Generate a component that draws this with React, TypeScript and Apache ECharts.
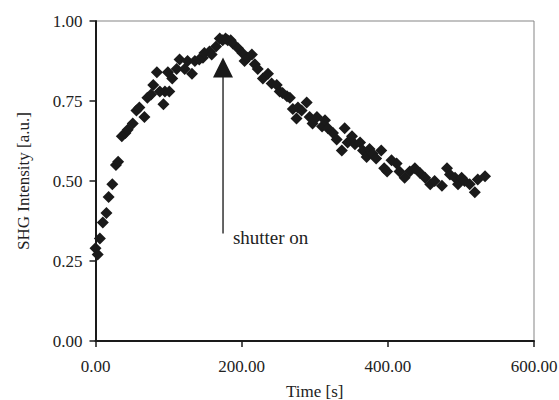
import { useEffect, useRef } from "react";
import * as echarts from "echarts";

const timeS = [
  0, 3, 6, 10, 15, 18, 23, 28, 31, 36, 41, 44, 51, 56, 60, 67, 71, 76, 79, 84,
  88, 93, 95, 99, 101, 105, 111, 115, 122, 126, 132, 136, 142, 147, 149, 156, 159, 165, 170, 174,
  178, 181, 185, 188, 195, 201, 204, 208, 214, 218, 222, 229, 236, 241, 248, 252, 256, 262, 266, 270,
  275, 277, 282, 289, 293, 297, 303, 310, 314, 318, 325, 330, 337, 341, 345, 351, 355, 362, 366, 371,
  375, 379, 384, 391, 395, 399, 405, 412, 416, 423, 430, 437, 444, 451, 458, 464, 474, 481, 485, 492,
  496, 501, 505, 512, 519, 523, 533,
];
const shg = [
  0.29, 0.27, 0.32, 0.37, 0.4, 0.45, 0.49, 0.55, 0.56, 0.64, 0.65, 0.66, 0.68, 0.72, 0.73, 0.7, 0.76, 0.77, 0.8, 0.84,
  0.78, 0.74, 0.78, 0.84, 0.78, 0.82, 0.85, 0.88, 0.85, 0.875, 0.835, 0.875, 0.88, 0.885, 0.9, 0.905, 0.895, 0.92, 0.945, 0.94,
  0.945, 0.94, 0.94, 0.93, 0.915, 0.9, 0.875, 0.885, 0.895, 0.865, 0.85, 0.82, 0.835, 0.805, 0.8, 0.78, 0.775, 0.765, 0.76, 0.725,
  0.695, 0.73, 0.72, 0.745, 0.7, 0.68, 0.7, 0.67, 0.69, 0.665, 0.65, 0.63, 0.595, 0.665, 0.62, 0.64, 0.615, 0.62, 0.595, 0.575,
  0.6, 0.585, 0.57, 0.595, 0.54, 0.53, 0.565, 0.555, 0.53, 0.51, 0.53, 0.54, 0.525, 0.51, 0.49, 0.5, 0.485, 0.54, 0.52, 0.51,
  0.49, 0.51, 0.5, 0.49, 0.465, 0.505, 0.515,
];

const xAxisName = "Time [s]";
const yAxisName = "SHG Intensity [a.u.]";
const annotationText = "shutter on";
// annotation anchor points in data units
const arrowX = 174.5;
const arrowTipY = 0.886;
const arrowBaseY = 0.336;
const labelX = 188;
const labelY = 0.324;

const FONT = "Liberation Serif";

export default function App() {
  const ref = useRef<HTMLDivElement>(null);
  useEffect(() => {
    if (!ref.current) return;
    const chart = echarts.init(ref.current, undefined, { renderer: "svg" });
    const data = timeS.map((t, i) => [t, shg[i]]);
    chart.setOption({
      animation: false,
      backgroundColor: "#fff",
      grid: {
        left: 95.5,
        right: 25,
        top: 21,
        bottom: 59,
        containLabel: false,
        outerBoundsMode: "none",
        show: true,
        borderColor: "#858585",
        borderWidth: 1,
      },
      xAxis: {
        type: "value",
        min: 0,
        max: 600,
        interval: 200,
        name: xAxisName,
        nameLocation: "middle",
        nameGap: 42,
        nameTextStyle: { fontFamily: FONT, fontSize: 17, color: "#222" },
        axisLine: { lineStyle: { color: "#1a1a1a", width: 2 } },
        axisTick: { show: true, length: 6, lineStyle: { color: "#1a1a1a", width: 1.5 } },
        splitLine: { show: false },
        axisLabel: {
          margin: 17,
          fontFamily: FONT,
          fontSize: 17,
          color: "#222",
          formatter: (v: number) => v.toFixed(2),
        },
      },
      yAxis: {
        type: "value",
        min: 0,
        max: 1,
        interval: 0.25,
        name: yAxisName,
        nameLocation: "middle",
        nameGap: 64,
        nameTextStyle: { fontFamily: FONT, fontSize: 17, color: "#222" },
        axisLine: { show: true, lineStyle: { color: "#1a1a1a", width: 2 } },
        axisTick: { show: true, length: 6, lineStyle: { color: "#1a1a1a", width: 1.5 } },
        splitLine: { show: false },
        axisLabel: {
          margin: 13,
          fontFamily: FONT,
          fontSize: 17,
          color: "#222",
          formatter: (v: number) => v.toFixed(2),
        },
      },
      series: [
        {
          type: "scatter",
          data,
          symbol: "diamond",
          symbolSize: [12, 12],
          itemStyle: { color: "#1a1a1a", opacity: 1 },
        },
      ],
    });
    const tip = chart.convertToPixel({ gridIndex: 0 }, [arrowX, arrowTipY]) as number[];
    const base = chart.convertToPixel({ gridIndex: 0 }, [arrowX, arrowBaseY]) as number[];
    const lab = chart.convertToPixel({ gridIndex: 0 }, [labelX, labelY]) as number[];
    chart.setOption({
      graphic: [
        {
          type: "line",
          shape: { x1: tip[0], y1: tip[1] + 19, x2: base[0], y2: base[1] },
          style: { stroke: "#333", lineWidth: 1.5 },
          z: 10,
        },
        {
          type: "polygon",
          shape: {
            points: [
              [tip[0], tip[1]],
              [tip[0] - 10, tip[1] + 20],
              [tip[0] + 10, tip[1] + 20],
            ],
          },
          style: { fill: "#1a1a1a" },
          z: 10,
        },
        {
          type: "text",
          x: lab[0],
          y: lab[1],
          style: {
            text: annotationText,
            fontFamily: FONT,
            fontSize: 19,
            fill: "#222",
            align: "left",
            verticalAlign: "middle",
          },
          z: 10,
        },
      ],
    });
    return () => chart.dispose();
  }, []);
  return (
    <div
      ref={ref}
      style={{ position: "fixed", left: 0, top: 0, width: 559, height: 400 }}
    />
  );
}
